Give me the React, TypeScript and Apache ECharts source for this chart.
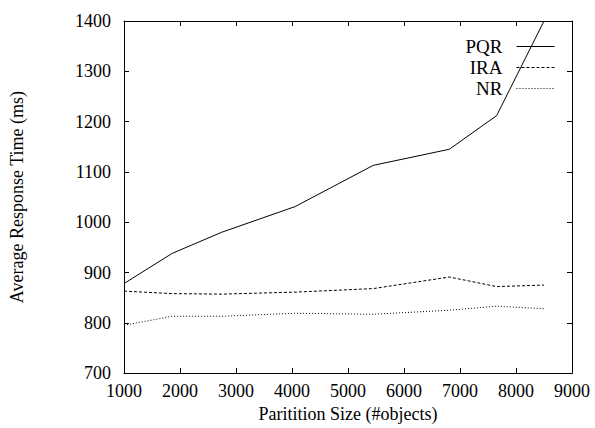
import React, { useEffect, useRef } from "react";
import * as echarts from "echarts";

const partitionSizes = [1000, 1860, 2745, 4055, 5450, 6810, 7655, 8500];
const pqr = [878, 938, 980, 1031, 1113, 1145, 1212, 1400];
const ira = [863, 858, 857, 861, 868, 891, 872, 875];
const nr = [795, 813, 813, 819, 817, 825, 833, 828];

const xTicks = { min: 1000, max: 9000, interval: 1000 };
const yTicks = { min: 700, max: 1400, interval: 100 };

const FONT = "'Liberation Serif', 'Times New Roman', serif";

const pairs = (ys: number[]) => partitionSizes.map((x, i) => [x, ys[i]]);

export default function App() {
  const ref = useRef<HTMLDivElement>(null);
  useEffect(() => {
    if (!ref.current) return;
    const chart = echarts.init(ref.current, undefined, { renderer: "svg" });
    const axisCommon = {
      type: "value" as const,
      axisLine: { show: true, lineStyle: { color: "#000", width: 1 } },
      axisTick: { show: true, inside: true, length: 5, lineStyle: { color: "#000" } },
      splitLine: { show: false },
    };
    const plain = (v: number) => String(v);
    chart.setOption({
      animation: false,
      backgroundColor: "#fff",
      grid: { left: 124, right: 23, top: 21, bottom: 53, containLabel: false },
      xAxis: [
        {
          ...axisCommon,
          ...xTicks,
          position: "bottom",
          name: "Paritition Size (#objects)",
          nameLocation: "middle",
          nameGap: 31,
          nameTextStyle: { fontFamily: FONT, fontSize: 18, color: "#000" },
          axisLabel: { fontFamily: FONT, fontSize: 18, color: "#000", margin: 9, formatter: plain },
        },
        {
          ...axisCommon,
          ...xTicks,
          position: "top",
          axisLabel: { show: false },
        },
      ],
      yAxis: [
        {
          ...axisCommon,
          ...yTicks,
          position: "left",
          name: "Average Response Time (ms)",
          nameLocation: "middle",
          nameGap: 98,
          nameTextStyle: { fontFamily: FONT, fontSize: 18, color: "#000" },
          axisLabel: { fontFamily: FONT, fontSize: 18, color: "#000", margin: 13, formatter: plain },
        },
        {
          ...axisCommon,
          ...yTicks,
          position: "right",
          axisLabel: { show: false },
        },
      ],
      legend: {
        orient: "vertical",
        right: 35,
        top: 32,
        align: "right",
        itemWidth: 38,
        itemHeight: 14,
        itemGap: 2,
        itemStyle: { color: "rgba(0,0,0,0)", borderColor: "rgba(0,0,0,0)", borderWidth: 0, opacity: 0 },
        lineStyle: { width: 1 },
        textStyle: { fontFamily: FONT, fontSize: 19, color: "#000", padding: [0, 9, 0, 0] },
        data: ["PQR", "IRA", "NR"],
      },
      series: [
        {
          name: "PQR",
          type: "line",
          data: pairs(pqr),
          symbol: "none",
          clip: true,
          lineStyle: { color: "#000", width: 1, type: "solid" },
          itemStyle: { color: "#000" },
        },
        {
          name: "IRA",
          type: "line",
          data: pairs(ira),
          symbol: "none",
          lineStyle: { color: "#000", width: 1, type: [3, 2] },
          itemStyle: { color: "#000" },
        },
        {
          name: "NR",
          type: "line",
          data: pairs(nr),
          symbol: "none",
          lineStyle: { color: "#000", width: 1, type: [1, 2] },
          itemStyle: { color: "#000" },
        },
      ],
    });
    return () => chart.dispose();
  }, []);
  return <div ref={ref} style={{ width: 595, height: 428, position: "absolute", left: 0, top: 0 }} />;
}
